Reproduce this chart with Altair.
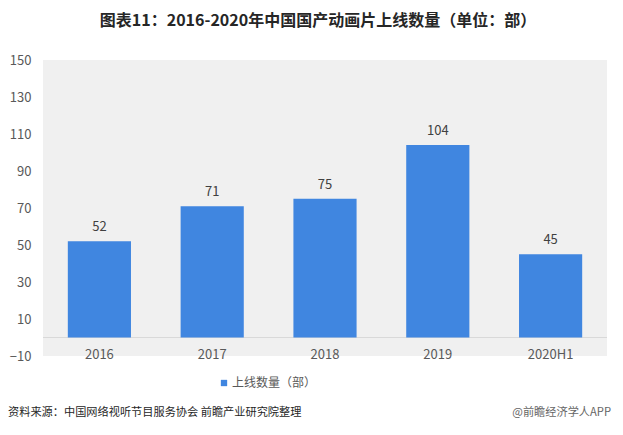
import altair as alt
import pandas as pd

years = ["2016", "2017", "2018", "2019", "2020H1"]
counts = [52, 71, 75, 104, 45]
series_name = "上线数量（部）"
title_text = "图表11：2016-2020年中国国产动画片上线数量（单位：部）"
source_text = "资料来源：中国网络视听节目服务协会 前瞻产业研究院整理"
brand_text = "@前瞻经济学人APP"
y_ticks = [-10, 10, 30, 50, 70, 90, 110, 130, 150]

df = pd.DataFrame({"year": years, "count": counts, "series": [series_name] * len(years)})

FONT = "Noto Sans CJK SC"
BLUE = "#4086e0"
W, H = 564, 296

x = alt.X(
    "year:N", sort=years,
    scale=alt.Scale(paddingInner=0.44, paddingOuter=0.22),
    axis=alt.Axis(title=None, labelAngle=0, domain=False, ticks=False, labelFontSize=13,
                  labelColor="#595959", labelFont=FONT, labelBaseline="middle",
                  labelPadding=6, offset=-8),
)
y_scale = alt.Scale(domain=[-10, 150], nice=False, zero=False)
y_axis = alt.Axis(title=None, values=y_ticks, domain=False, ticks=False, grid=False,
                  labelOverlap=False, labelFontSize=13, labelColor="#595959",
                  labelPadding=12, labelFont=FONT)
y = alt.Y("count:Q", scale=y_scale, axis=y_axis)

base = alt.Chart(df)

bars = base.mark_bar(color=BLUE).encode(
    x=x, y=y, y2=alt.datum(0),
    color=alt.Color(
        "series:N",
        scale=alt.Scale(domain=[series_name], range=[BLUE]),
        legend=alt.Legend(title=None, orient="none", legendX=175, legendY=317,
                          symbolType="square", symbolSize=40, labelFontSize=12,
                          labelFont=FONT, labelColor="#595959", padding=0, labelOffset=2,
                          symbolStrokeWidth=0),
    ),
)

labels = base.mark_text(baseline="bottom", dy=-7, fontSize=13, color="#404040", font=FONT).encode(
    x=x, y=y, text="count:Q"
)

zero_df = pd.DataFrame({"count": [0]})
zero_rule = alt.Chart(zero_df).mark_rule(color="#d9d9d9", strokeWidth=1).encode(y=y)

title = alt.Chart(pd.DataFrame({"t": [title_text]})).mark_text(
    align="center", baseline="middle", fontSize=16, fontWeight="bold", color="#262626", font=FONT
).encode(x=alt.value(275), y=alt.value(-39), text="t:N")

source = alt.Chart(pd.DataFrame({"t": [source_text]})).mark_text(
    align="left", baseline="middle", fontSize=11.2, color="#262626", font=FONT
).encode(x=alt.value(-35), y=alt.value(353), text="t:N")

brand = alt.Chart(pd.DataFrame({"t": [brand_text]})).mark_text(
    align="right", baseline="middle", fontSize=11.2, color="#666666", font=FONT
).encode(x=alt.value(568), y=alt.value(353), text="t:N")

chart = alt.layer(zero_rule, bars, labels, title, source, brand).properties(
    width=W, height=H,
    autosize=alt.AutoSizeParams(type="none"),
    padding={"left": 35, "top": 52, "right": 8, "bottom": 71},
    background="white",
).configure_view(fill="#f0f0f0", strokeWidth=0).configure_axisY(labelOverlap=False)

chart.save("out.html", embed_options={"renderer": "svg", "actions": False})
